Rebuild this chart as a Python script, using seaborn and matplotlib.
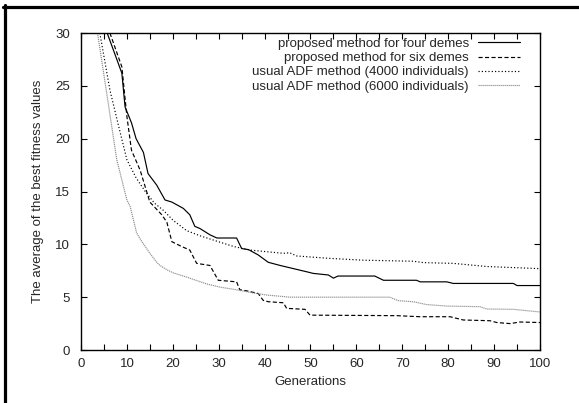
import matplotlib
matplotlib.use('Agg')
import matplotlib.pyplot as plt
from matplotlib.lines import Line2D
import pandas as pd
import seaborn as sns

sns.set_style('ticks')
plt.rcParams['font.family'] = ['Liberation Sans', 'DejaVu Sans']

# Curves (generation, average best fitness)
four_gen = [5.7, 8.9, 9.6, 11, 12, 13.6, 14.6, 16.5, 18.3, 19.8, 22.3, 23.7, 24.8, 25.9,
            28.1, 29.6, 33.9, 35, 36.5, 38.6, 40.8, 43.4, 46.3, 49.2, 50.6, 53.9, 55, 56,
            64, 65.9, 73.1, 73.9, 79.7, 81.1, 94.2, 95, 100]
four_val = [30, 26.2, 23.0, 21.5, 20.0, 18.7, 16.7, 15.6, 14.2, 14.0, 13.4, 12.8, 11.7, 11.5,
            10.9, 10.6, 10.6, 9.6, 9.5, 9.0, 8.3, 8.0, 7.7, 7.4, 7.25, 7.1, 6.8, 7.0,
            7.0, 6.6, 6.6, 6.45, 6.45, 6.3, 6.3, 6.1, 6.1]

six_gen = [6.3, 8.9, 10, 11, 12.9, 14.3, 15, 17.6, 18.7, 19.8, 21.9, 23.7, 25.2, 28.1,
           29.9, 33.9, 34.6, 36.1, 38.6, 39.7, 40.8, 44.1, 44.8, 48.8, 49.9, 68.8, 73.9,
           80.4, 83.3, 89.1, 90.6, 93.5, 95.6, 100]
six_val = [30, 26.8, 22.1, 18.9, 17.0, 15.0, 14.0, 12.8, 12.1, 10.25, 9.8, 9.46, 8.2, 8.0,
           6.6, 6.45, 5.7, 5.6, 5.35, 4.7, 4.57, 4.47, 3.94, 3.85, 3.3, 3.25, 3.15,
           3.15, 2.84, 2.77, 2.6, 2.5, 2.65, 2.6]

adf4000_gen = [4.1, 6.3, 8.3, 10, 12, 14, 16, 18, 20, 23, 26, 29.6, 33.2, 36.8, 40.5,
               44.1, 45.5, 47, 54.2, 61.5, 72.4, 74.6, 81.1, 88.4, 100]
adf4000_val = [30, 24.6, 21.0, 18.0, 16.3, 15.0, 13.9, 13.2, 12.3, 11.3, 10.8, 10.3, 9.8,
               9.46, 9.3, 9.15, 9.2, 8.9, 8.67, 8.5, 8.4, 8.27, 8.2, 7.9, 7.7]

adf6000_gen = [3.6, 5.6, 7.8, 10, 10.7, 12.1, 12.9, 15, 16.5, 17.2, 18.7, 20.1, 23, 27.4,
               30.3, 33.9, 37.5, 40.5, 45.5, 67.3, 69.1, 72.4, 75.3, 79.7, 86.9, 88.4,
               94.2, 100]
adf6000_val = [30, 24.3, 18.0, 14.2, 13.6, 11.1, 10.5, 9.15, 8.3, 8.0, 7.6, 7.3, 6.9, 6.25,
               5.95, 5.7, 5.4, 5.2, 5.0, 5.0, 4.67, 4.57, 4.3, 4.16, 4.1, 3.88,
               3.85, 3.6]

series = [
    ('proposed method for four demes', four_gen, four_val, 'black', '-'),
    ('proposed method for six demes', six_gen, six_val, 'black', (0, (3.5, 2))),
    ('usual ADF method (4000 individuals)', adf4000_gen, adf4000_val, 'black', (0, (1, 1.8))),
    ('usual ADF method (6000 individuals)', adf6000_gen, adf6000_val, '#8c8c8c', (0, (1, 0.7))),
]

fig = plt.figure(figsize=(5.79, 4.03), dpi=100)
ax = fig.add_axes([0.1399, 0.1315, 0.7927, 0.7866])

for label, gen, val, color, ls in series:
    df = pd.DataFrame({'Generations': gen, 'value': val})
    sns.lineplot(data=df, x='Generations', y='value', ax=ax, color=color,
                 linestyle=ls, linewidth=0.85, label=label, estimator=None, sort=False)

ax.set_xlim(0, 100)
ax.set_ylim(0, 30)
ax.set_xticks(range(0, 101, 10))
ax.set_xticks(range(5, 100, 10), minor=True)
ax.set_yticks(range(0, 31, 5))
ax.tick_params(which='both', direction='in', top=True, right=True, length=4,
               width=0.8, color='black', labelsize=9.5)
ax.tick_params(axis='y', pad=8)
ax.tick_params(axis='x', pad=6)
for s in ax.spines.values():
    s.set_linewidth(1.0)
    s.set_color('black')

ax.set_xlabel('Generations', fontsize=9.5, labelpad=4)
ax.set_ylabel('The average of the best fitness values', fontsize=9.5, labelpad=8)

ax.legend(loc='upper right', bbox_to_anchor=(0.957, 0.985), frameon=False,
          markerfirst=False, fontsize=9.5, handlelength=3.2, handletextpad=0.7,
          labelspacing=0.15, borderpad=0, borderaxespad=0)

# cropped page frame (left and top edges)
fig.add_artist(Line2D([4.5 / 579, 4.5 / 579], [0, 1 - 5 / 403], transform=fig.transFigure,
                      color='black', linewidth=2.3))
fig.add_artist(Line2D([3 / 579, 1], [1 - 6.5 / 403, 1 - 6.5 / 403], transform=fig.transFigure,
                      color='black', linewidth=2.3))

fig.savefig('out.png', dpi=100)
